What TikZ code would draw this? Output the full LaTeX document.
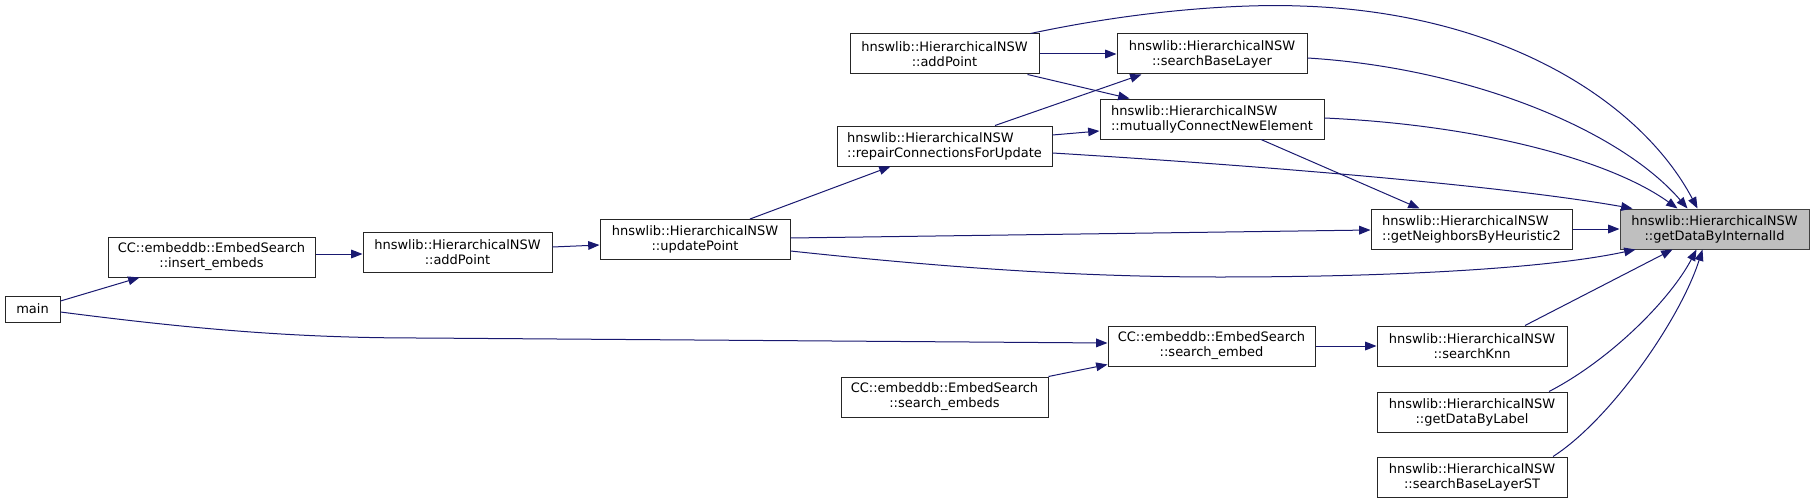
\documentclass[tikz,border=0pt]{standalone}
\usepackage{fontspec}
\usepackage{tikz}
\usetikzlibrary{arrows.meta, calc}
\newfontfamily\dotfont{DejaVu Sans}
\definecolor{edgeblue}{RGB}{25,25,112}
\definecolor{nodegray}{RGB}{191,191,191}
\definecolor{nodeline}{RGB}{64,64,64}
\tikzset{
  func/.style={rectangle, draw=black!85, fill=white,
    minimum height=30pt, inner sep=0pt, line width=0.75pt,
    font=\dotfont\fontsize{9.75}{11.25}\selectfont, align=center},
  funcl/.style={func, align=left},
  curfunc/.style={func, draw=nodeline, fill=nodegray},
  call/.style={-{Triangle[length=8.5pt, width=6.5pt]}, color=edgeblue, line width=0.75pt}
}

\begin{document}
\begin{tikzpicture}[x=0.75pt, y=-0.75pt]
  \useasboundingbox (0,0) rectangle (1815,503);

  % Callers on the left
  \node[func, minimum width=41.25pt, minimum height=19.5pt] (main) at (32.5,309) {main};
  \node[func, minimum width=155.25pt] (insert) at (211.5,257) {CC::embeddb::EmbedSearch\\::insert\_embeds};
  \node[func, minimum width=141.75pt] (addlow) at (457.5,252) {hnswlib::HierarchicalNSW\\::addPoint};
  \node[func, minimum width=142.5pt] (update) at (695,239.5) {hnswlib::HierarchicalNSW\\::updatePoint};

  % Middle column
  \node[func, minimum width=141.75pt] (addtop) at (944.5,54) {hnswlib::HierarchicalNSW\\::addPoint};
  \node[funcl, minimum width=161.25pt] (repair) at (944.5,146) {hnswlib::HierarchicalNSW\\::repairConnectionsForUpdate};
  \node[func, minimum width=155.25pt] (sembeds) at (944.5,397) {CC::embeddb::EmbedSearch\\::search\_embeds};
  \node[func, minimum width=142.5pt] (sbl) at (1212,54) {hnswlib::HierarchicalNSW\\::searchBaseLayer};
  \node[funcl, minimum width=168pt] (mutual) at (1212,119) {hnswlib::HierarchicalNSW\\::mutuallyConnectNewElement};
  \node[func, minimum width=155.25pt] (sembed) at (1211.5,346) {CC::embeddb::EmbedSearch\\::search\_embed};

  % Right column
  \node[funcl, minimum width=150.75pt] (neighb) at (1471.5,229) {hnswlib::HierarchicalNSW\\::getNeighborsByHeuristic2};
  \node[func, minimum width=142.5pt] (knn) at (1472,346) {hnswlib::HierarchicalNSW\\::searchKnn};
  \node[func, minimum width=142.5pt] (bylabel) at (1472,412) {hnswlib::HierarchicalNSW\\::getDataByLabel};
  \node[func, minimum width=142.5pt] (sblst) at (1472,477) {hnswlib::HierarchicalNSW\\::searchBaseLayerST};
  \node[curfunc, minimum width=141.75pt] (target) at (1714.5,229) {hnswlib::HierarchicalNSW\\::getDataByInternalId};

  % Calls from the left side
  \draw[call] ($(main.east)+(0,-8)$) -- ($(insert.south west)+(32,0)$);
  \draw[call] ($(main.east)+(0,3)$) .. controls (200,330) and (300,338) .. (420,338) -- ($(sembed.west)+(0,-3)$);
  \draw[call] ($(insert.east)+(0,-3)$) -- ($(addlow.west)+(0,2)$);
  \draw[call] ($(addlow.east)+(0,-5)$) -- ($(update.west)+(0,5.5)$);
  \draw[call] ($(update.north)+(55,0)$) -- ($(repair.south)+(-54,0)$);
  \draw[call] ($(update.east)+(0,-1.5)$) -- ($(neighb.west)+(0,1)$);
  \draw[call] ($(update.east)+(0,11.5)$) .. controls (950,268) and (1080,277) .. (1220,277)
    .. controls (1400,277) and (1550,268) .. ($(target.south west)+(16,0)$);

  % Calls from the middle
  \draw[call] ($(repair.north)+(50.5,0)$) -- ($(sbl.south west)+(25,0)$);
  \draw[call] ($(repair.east)+(0,-11)$) -- ($(mutual.west)+(0,12)$);
  \draw[call] ($(repair.east)+(0,7)$) .. controls (1250,165) and (1500,185) .. ($(target.north west)+(13,0)$);
  \draw[call] (addtop.east) -- (sbl.west);
  \draw[call] ($(addtop.south east)+(-12,0)$) -- ($(mutual.north west)+(30,0)$);
  \draw[call] ($(addtop.north east)+(-9,0)$) .. controls (1150,8) and (1250,4) .. (1300,6)
    .. controls (1500,12) and (1640,100) .. ($(target.north west)+(78,0)$);
  \draw[call] ($(sbl.east)+(0,4)$) .. controls (1470,68) and (1620,130) .. ($(target.north west)+(68,0)$);
  \draw[call] ($(mutual.east)+(0,-1)$) .. controls (1480,125) and (1610,160) .. ($(target.north west)+(58,0)$);
  \draw[call] ($(mutual.south)+(49,0)$) -- ($(neighb.north west)+(49,0)$);
  \draw[call] (sembeds.north east) -- ($(sembed.south west)+(0,-2)$);
  \draw[call] (sembed.east) -- (knn.west);

  % Calls from the right column
  \draw[call] (neighb.east) -- (target.west);
  \draw[call] ($(knn.north)+(53,0)$) -- ($(target.south west)+(53,0)$);
  \draw[call] ($(bylabel.north)+(77,0)$) .. controls (1610,360) and (1670,300) .. ($(target.south west)+(77,0)$);
  \draw[call] ($(sblst.north)+(81,0)$) .. controls (1610,420) and (1680,320) .. ($(target.south west)+(83,0)$);
\end{tikzpicture}
\end{document}
